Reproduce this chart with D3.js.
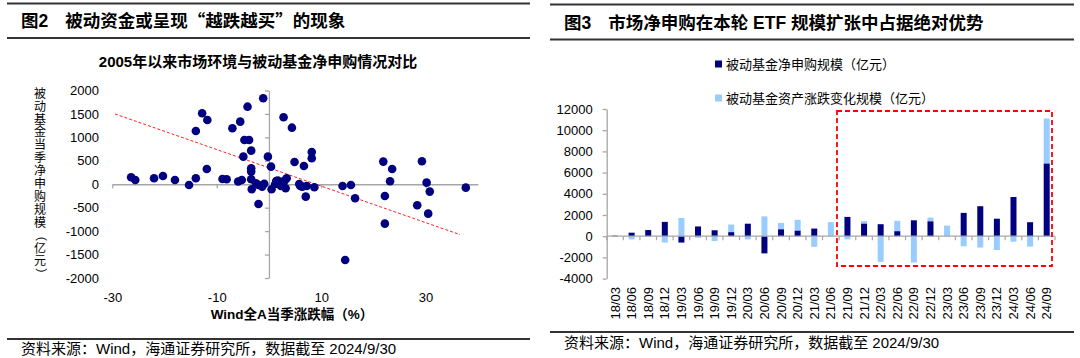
<!DOCTYPE html>
<html><head><meta charset="utf-8">
<script src="https://cdn.jsdelivr.net/npm/d3@7"></script>
<style>
body{margin:0;background:#fff}
svg{display:block}
text{font-family:"Liberation Sans","Noto Sans CJK SC",sans-serif;fill:#000}
</style>
</head><body>
<svg id="c" width="1080" height="358"></svg>
<script>
// ---------- Data: left scatter (quarterly since 2005) ----------
const marketReturn = [-26.4,-25.6,-22.0,-20.3,-18.0,-15.3,-14.0,-14.0,-12.8,-11.8,-11.9,-8.9,-8.1,-7.0,-5.9,-5.2,-5.5,-4.1,-4.7,-3.8,-4.9,-3.4,-3.4,-3.4,-3.4,-3.3,-2.5,-2.0,-2.0,-1.3,-1.1,-0.9,-0.2,0.4,0.5,1.2,1.4,1.7,2.3,2.8,3.0,3.4,3.2,4.4,4.9,5.8,6.0,6.4,6.7,7.05,7.24,8.2,8.2,8.7,14.1,14.6,15.7,16.5,21.9,22.2,22.2,23.2,23.6,28.4,29.3,30.2,30.5,30.8,37.7];
const netSubscription = [149,92,128,177,92,-15,128,1137,1514,1372,326,113,107,1194,60,92,1336,1655,945,945,589,717,341,270,107,-107,21,-15,-420,-50,1834,10,589,376,-107,6,70,77,-36,1429,77,128,-85,1207,476,6,-36,-50,390,-264,-36,689,554,-64,-36,-1615,-15,-299,483,-250,-840,64,326,-448,491,34,-627,-157,-72];
const trendX = [-29.5, 36.6];
const trendY = [1500, -1075];
const scatterXTicks = [-30,-10,10,30];
const scatterYTicks = [-2000,-1500,-1000,-500,0,500,1000,1500,2000];

// ---------- Data: right bar chart ----------
const quarters = ["18/03","18/06","18/09","18/12","19/03","19/06","19/09","19/12","20/03","20/06","20/09","20/12","21/03","21/06","21/09","21/12","22/03","22/06","22/09","22/12","23/03","23/06","23/09","23/12","24/03","24/06","24/09"];
const netSub = [50,330,580,1350,-600,920,560,380,1180,-1620,650,520,720,0,1820,1180,1130,470,1500,1400,0,2200,2830,1650,3700,1320,6850];
const assetChg = [-30,-300,0,-600,1720,-150,-450,720,-300,1870,600,1030,-1000,1320,-300,240,-2420,980,-2480,350,1000,-950,-1070,-1300,-520,-980,4250];
const barYTicks = [-4000,-2000,0,2000,4000,6000,8000,10000,12000];
const seriesNames = ["被动基金净申购规模（亿元）","被动基金资产涨跌变化规模（亿元）"];

const NAVY = "#000080", LIGHT = "#99CCFF", AXIS = "#a6a6a6";
const svg = d3.select("#c");

// ---------- Headers / footers ----------
function frame(x0, x1, yTop, yBot, yFootLine, yFootText, title, titleY) {
  [yTop, yBot, yFootLine].forEach(y =>
    svg.append("line").attr("x1", x0).attr("x2", x1).attr("y1", y).attr("y2", y)
      .attr("stroke", "#333").attr("stroke-width", 2));
  const t = svg.append("text").attr("x", x0 + 14).attr("y", titleY)
    .attr("font-size", 17.5).attr("font-weight", "bold");
  title.forEach(p => {
    const s = t.append("tspan").text(p.t);
    if (p.cjk) s.attr("font-family", "Noto Sans CJK SC");
    if (p.dx) s.attr("dx", p.dx);
  });
  svg.append("text").attr("x", x0 + 14).attr("y", yFootText).attr("dy", "0.35em")
    .attr("font-size", 15).attr("fill", "#222")
    .text("资料来源：Wind，海通证券研究所，数据截至 2024/9/30");
}
frame(7, 530, 3.5, 38, 339, 349,
  [{t:"图2"},{t:"被动资金或呈现",dx:17},{t:"“",cjk:true},{t:"越跌越买"},{t:"”",cjk:true},{t:"的现象"}], 27);
frame(550, 1074, 4.5, 39.5, 332, 343,
  [{t:"图3"},{t:"市场净申购在本轮 ETF 规模扩张中占据绝对优势",dx:17}], 28.5);

// ---------- Left scatter ----------
const sx = d3.scaleLinear().domain([-30, 40]).range([112.3, 477.8]);
const sy = d3.scaleLinear().domain([-2000, 2000]).range([278, 90.5]);

svg.append("text").attr("x", 258).attr("y", 62).attr("dy", "0.35em")
  .attr("text-anchor", "middle").attr("font-size", 15).attr("font-weight", "bold")
  .text("2005年以来市场环境与被动基金净申购情况对比");

// axis lines crossing at 0
const gxLine = svg.append("g").attr("transform", `translate(0,${sy(0)})`)
  .call(d3.axisBottom(sx).tickValues(scatterXTicks).tickSize(4).tickSizeOuter(0).tickFormat(""));
const gyLine = svg.append("g").attr("transform", `translate(${sx(0)},0)`)
  .call(d3.axisLeft(sy).tickValues(scatterYTicks).tickSize(4).tickSizeOuter(0).tickFormat(""));
[gxLine, gyLine].forEach(g => { g.selectAll("path,line").attr("stroke", AXIS).attr("stroke-width", 1.3); });

// tick labels at low position
const gxLab = svg.append("g").attr("transform", "translate(0,289.5)")
  .call(d3.axisBottom(sx).tickValues(scatterXTicks).tickSize(0).tickFormat(d3.format("d")));
const gyLab = svg.append("g").attr("transform", "translate(102,0)")
  .call(d3.axisLeft(sy).tickValues(scatterYTicks).tickSize(0).tickFormat(d3.format("d")));
[gxLab, gyLab].forEach(g => {
  g.select(".domain").remove();
  g.selectAll("text").attr("font-size", 13).attr("fill", "#111")
    .attr("font-family", "Liberation Sans");
});
gxLab.selectAll("text").text(d => d < 0 ? "-" + Math.abs(d) : d);
gyLab.selectAll("text").text(d => d < 0 ? "-" + Math.abs(d) : d);

// trend line
svg.append("line")
  .attr("x1", sx(trendX[0])).attr("y1", sy(trendY[0]))
  .attr("x2", sx(trendX[1])).attr("y2", sy(trendY[1]))
  .attr("stroke", "#ff2020").attr("stroke-width", 1).attr("stroke-dasharray", "3,2");

// dots
svg.append("g").selectAll("circle").data(marketReturn.map((x, i) => [x, netSubscription[i]]))
  .join("circle").attr("cx", d => sx(d[0])).attr("cy", d => sy(d[1])).attr("r", 4.3)
  .attr("fill", NAVY);

// y title (vertical)
const yTitle = "被动基金当季净申购规模（亿元）".split("");
svg.append("g").selectAll("text").data(yTitle).join("text")
  .attr("font-size", 12).attr("text-anchor", "middle").attr("dy", "0.36em")
  .attr("font-family", "Noto Sans CJK SC")
  .attr("transform", (d, i) => {
    const cy = 87 + 6.45 + 12.9 * i;
    return (d === "（" || d === "）") ? `translate(40,${cy}) rotate(90)` : `translate(40,${cy})`;
  })
  .text(d => d);

// x title
svg.append("text").attr("x", 292).attr("y", 314).attr("dy", "0.35em")
  .attr("text-anchor", "middle").attr("font-size", 13.5).attr("font-weight", "bold")
  .text("Wind全A当季涨跌幅（%）");

// ---------- Right bar chart ----------
const bx = d3.scaleBand().domain(quarters).range([606.7, 1055]).padding(0);
const by = d3.scaleLinear().domain([-4000, 12000]).range([278.6, 109]);
const table = quarters.map((q, i) => ({q, net: netSub[i], asset: assetChg[i]}));
const stack = d3.stack().keys(["net", "asset"]).offset(d3.stackOffsetDiverging)(table);
const barW = 6;

// y axis
const gby = svg.append("g").attr("transform", `translate(${bx.range()[0]},0)`)
  .call(d3.axisLeft(by).tickValues(barYTicks).tickSize(4).tickSizeOuter(0).tickPadding(10).tickFormat(d3.format("d")));
gby.selectAll("path,line").attr("stroke", AXIS).attr("stroke-width", 1.3);
gby.selectAll("text").attr("font-size", 13).attr("fill", "#111").attr("font-family", "Liberation Sans")
  .text(d => d < 0 ? "-" + Math.abs(d) : d);

// bars
const colors = {net: NAVY, asset: LIGHT};
stack.slice().reverse().forEach(layer => {
  svg.append("g").selectAll("rect").data(layer).join("rect")
    .attr("x", d => bx(d.data.q) + bx.bandwidth() / 2 - barW / 2)
    .attr("width", barW)
    .attr("y", d => by(Math.max(d[0], d[1])))
    .attr("height", d => Math.abs(by(d[0]) - by(d[1])))
    .attr("fill", colors[layer.key]);
});

// x axis line with boundary ticks
const y0 = by(0);
const bounds = quarters.map(q => bx(q)).concat([bx.range()[1]]);
svg.append("line").attr("x1", bx.range()[0]).attr("x2", bx.range()[1])
  .attr("y1", y0).attr("y2", y0).attr("stroke", AXIS).attr("stroke-width", 1.3);
svg.append("g").selectAll("line").data(bounds).join("line")
  .attr("x1", d => d).attr("x2", d => d).attr("y1", y0).attr("y2", y0 + 4)
  .attr("stroke", AXIS).attr("stroke-width", 1.2);

// x labels (rotated)
svg.append("g").selectAll("text").data(quarters).join("text")
  .attr("transform", d => `translate(${bx(d) + bx.bandwidth() / 2},287) rotate(-90)`)
  .attr("text-anchor", "end").attr("dy", "0.35em").attr("font-size", 13)
  .attr("font-family", "Liberation Sans").attr("fill", "#111")
  .text(d => d);

// highlight rectangle
svg.append("rect").attr("x", 837).attr("y", 111).attr("width", 215).attr("height", 155)
  .attr("fill", "none").attr("stroke", "#ff0000").attr("stroke-width", 1.8)
  .attr("stroke-dasharray", "5,3");

// legend
const lg = svg.append("g");
[NAVY, LIGHT].forEach((c, i) => {
  const ly = 64 + i * 34;
  lg.append("rect").attr("x", 715).attr("y", ly - 3.5).attr("width", 7).attr("height", 7).attr("fill", c);
  lg.append("text").attr("x", 726).attr("y", ly).attr("dy", "0.35em").attr("font-size", 13)
    .attr("fill", "#222").attr("font-family", "Noto Sans CJK SC").text(seriesNames[i]);
});
</script>
</body></html>
